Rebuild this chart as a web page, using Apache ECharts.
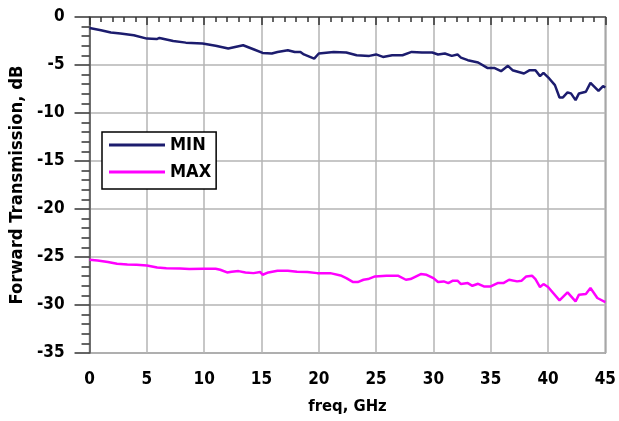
<!DOCTYPE html>
<html>
<head>
<meta charset="utf-8">
<script src="https://cdn.jsdelivr.net/npm/echarts@6/dist/echarts.min.js"></script>
<style>html,body{margin:0;padding:0;background:#fff}#c{width:619px;height:421px}</style>
</head>
<body>
<div id="c"></div>
<script>
var minFreq = [0,1,1.86,2.7,3.86,5.0,5.86,6.1,7.3,8.4,9.86,11.0,12.1,13.4,14.3,15.1,15.9,16.4,17.3,17.9,18.4,18.7,19.6,20.0,21.3,22.4,23.3,24.4,25.0,25.6,26.4,27.3,28.1,29.0,29.9,30.4,31.0,31.6,32.1,32.4,33.0,33.9,34.7,35.3,35.9,36.5,36.9,37.9,38.4,38.9,39.3,39.6,40.1,40.6,41.0,41.3,41.7,42.0,42.4,42.7,43.3,43.7,44.4,44.8,45];
var minVals = [-1.14,-1.38,-1.62,-1.73,-1.9,-2.25,-2.3,-2.18,-2.5,-2.67,-2.77,-3.0,-3.29,-2.94,-3.36,-3.74,-3.8,-3.64,-3.46,-3.64,-3.64,-3.9,-4.33,-3.8,-3.64,-3.7,-3.98,-4.05,-3.9,-4.16,-3.98,-3.98,-3.64,-3.7,-3.7,-3.9,-3.8,-4.05,-3.9,-4.23,-4.5,-4.74,-5.3,-5.3,-5.64,-5.09,-5.54,-5.89,-5.54,-5.54,-6.16,-5.82,-6.4,-7.1,-8.38,-8.38,-7.86,-7.96,-8.66,-7.96,-7.79,-6.86,-7.69,-7.2,-7.34];
var maxFreq = [0,0.7,1.6,2.4,3.3,4.1,5.0,5.9,6.7,7.9,8.7,9.9,11.0,11.4,12.0,12.4,13.0,13.6,14.3,14.9,15.1,15.6,16.4,17.3,18.1,19.0,19.86,21.0,21.9,22.4,23.0,23.4,23.9,24.3,24.9,25.9,26.9,27.6,28.0,28.9,29.4,30.0,30.4,30.9,31.3,31.7,32.1,32.4,33.0,33.4,33.9,34.4,35.0,35.6,36.1,36.6,37.3,37.7,38.1,38.6,38.9,39.3,39.6,40.0,41.0,41.7,42.4,42.7,43.3,43.7,44.3,45];
var maxVals = [-25.29,-25.36,-25.53,-25.71,-25.78,-25.81,-25.88,-26.09,-26.16,-26.19,-26.26,-26.23,-26.23,-26.33,-26.61,-26.54,-26.47,-26.61,-26.68,-26.57,-26.85,-26.61,-26.43,-26.43,-26.54,-26.57,-26.68,-26.68,-26.92,-27.2,-27.61,-27.61,-27.37,-27.3,-27.02,-26.95,-26.95,-27.37,-27.3,-26.78,-26.85,-27.2,-27.61,-27.54,-27.72,-27.47,-27.47,-27.82,-27.72,-28.0,-27.79,-28.06,-28.06,-27.72,-27.72,-27.37,-27.54,-27.47,-27.02,-26.95,-27.3,-28.13,-27.82,-28.13,-29.52,-28.68,-29.62,-28.92,-28.85,-28.23,-29.27,-29.69];
var seriesNames = ['MIN','MAX'];
var xTitle = 'freq, GHz';
var yTitle = 'Forward Transmission, dB';

function pairs(xs, ys){ return xs.map(function(x,i){ return [x, ys[i]]; }); }
var FONT = '"DejaVu Sans Condensed", "Liberation Sans Narrow", sans-serif';
var chart = echarts.init(document.getElementById('c'), null, {renderer:'canvas'});
chart.setOption({
  animation:false,
  backgroundColor:'#fff',
  grid:{left:88, right:6, top:17, bottom:68, show:true, borderColor:'#808080', borderWidth:1.5},
  legend:{
    orient:'vertical', left:102, top:132, padding:[2,5,6,7], itemGap:5,
    backgroundColor:'#fff', borderColor:'#000', borderWidth:1.5, borderRadius:0,
    icon:'rect', itemWidth:56, itemHeight:3,
    textStyle:{fontFamily:FONT, fontWeight:'bold', fontSize:18, color:'#000', lineHeight:22},
    data:seriesNames
  },
  xAxis:{
    type:'value', min:0, max:45, interval:5,
    name:xTitle, nameLocation:'middle', nameGap:45,
    nameTextStyle:{fontFamily:FONT, fontWeight:'bold', fontSize:16.5, color:'#000'},
    axisLine:{lineStyle:{color:'#555', width:1.5}},
    axisTick:{show:true, inside:false, length:8, lineStyle:{color:'#333', width:1.5}},
    minorTick:{show:true, splitNumber:5, length:5, lineStyle:{color:'#333', width:1.5}},
    axisLabel:{fontFamily:FONT, fontWeight:'bold', fontSize:17, color:'#000', margin:18},
    splitLine:{show:true, lineStyle:{color:'#b4b4b4', width:1.5}}
  },
  yAxis:{
    type:'value', min:-35, max:0, interval:5,
    name:yTitle, nameLocation:'middle', nameGap:61,
    nameTextStyle:{fontFamily:FONT, fontWeight:'bold', fontSize:18.3, color:'#000'},
    axisLine:{lineStyle:{color:'#555', width:1.5}},
    axisTick:{show:true, inside:false, length:15, lineStyle:{color:'#333', width:1.5}},
    minorTick:{show:true, splitNumber:5, length:8, lineStyle:{color:'#333', width:1.5}},
    axisLabel:{fontFamily:FONT, fontWeight:'bold', fontSize:17, color:'#000', margin:25},
    splitLine:{show:true, lineStyle:{color:'#b4b4b4', width:1.5}}
  },
  series:[
    {name:seriesNames[0], type:'line', data:pairs(minFreq,minVals), symbol:'none', lineStyle:{color:'#1c1c6e', width:2.5}, itemStyle:{color:'#1c1c6e'}},
    {name:seriesNames[1], type:'line', data:pairs(maxFreq,maxVals), symbol:'none', lineStyle:{color:'#ff00ff', width:2.5}, itemStyle:{color:'#ff00ff'}}
  ]
});
</script>
</body>
</html>
